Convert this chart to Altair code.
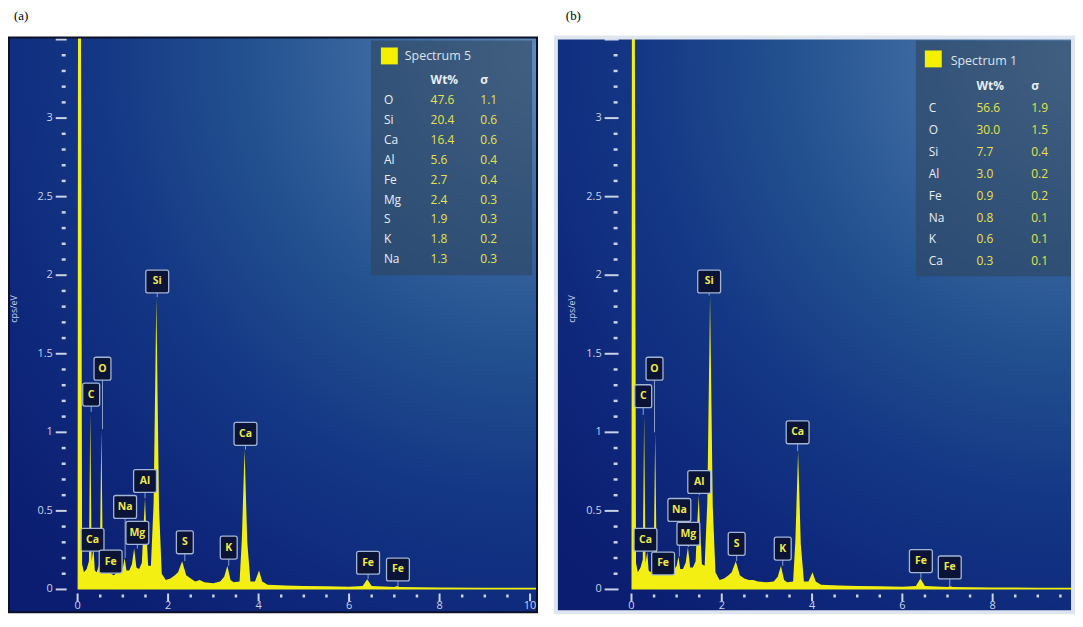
import altair as alt
import pandas as pd

# ---------------- spectrum data (energy keV, intensity cps/eV) ----------------
energy = [0.00, 0.01, 0.07, 0.10, 0.14, 0.20, 0.25, 0.28, 0.31, 0.35,
          0.38, 0.42, 0.47, 0.50, 0.525, 0.55, 0.58, 0.62, 0.66, 0.70,
          0.74, 0.80, 0.88, 0.95, 1.00, 1.04, 1.08, 1.14, 1.20, 1.25,
          1.30, 1.36, 1.42, 1.46, 1.49, 1.52, 1.56, 1.62, 1.68, 1.74,
          1.80, 1.86, 1.95, 2.05, 2.15, 2.22, 2.31, 2.40, 2.50, 2.60,
          2.70, 2.80, 3.00, 3.15, 3.24, 3.31, 3.38, 3.45, 3.58, 3.63,
          3.69, 3.75, 3.82, 3.92, 4.01, 4.08, 4.20, 4.60, 5.00, 5.50,
          6.00, 6.30, 6.40, 6.50, 7.00, 7.06, 7.12, 8.00, 9.00, 10.30]
cps_a = [0.00, 4.20, 4.20, 0.16, 0.11, 0.13, 0.18, 1.13, 0.18, 0.27,
         0.12, 0.11, 0.15, 0.40, 1.02, 0.36, 0.12, 0.10, 0.12, 0.15,
         0.10, 0.09, 0.11, 0.12, 0.14, 0.20, 0.12, 0.12, 0.16, 0.26,
         0.14, 0.13, 0.17, 0.42, 0.58, 0.36, 0.15, 0.15, 0.55, 1.86,
         0.52, 0.10, 0.06, 0.07, 0.09, 0.11, 0.18, 0.09, 0.07, 0.05,
         0.06, 0.045, 0.04, 0.05, 0.08, 0.15, 0.06, 0.045, 0.05, 0.32,
         0.89, 0.30, 0.05, 0.05, 0.12, 0.05, 0.03, 0.025, 0.022, 0.02,
         0.017, 0.022, 0.065, 0.022, 0.016, 0.022, 0.015, 0.013, 0.011, 0.01]
cps_b = [0.00, 4.20, 4.20, 0.17, 0.11, 0.14, 0.19, 1.11, 0.17, 0.24,
         0.12, 0.11, 0.14, 0.38, 1.00, 0.35, 0.12, 0.10, 0.11, 0.13,
         0.10, 0.09, 0.11, 0.13, 0.15, 0.21, 0.13, 0.13, 0.17, 0.27,
         0.14, 0.14, 0.18, 0.44, 0.60, 0.38, 0.16, 0.15, 0.56, 1.87,
         0.53, 0.11, 0.06, 0.07, 0.09, 0.11, 0.18, 0.09, 0.07, 0.06,
         0.06, 0.05, 0.045, 0.05, 0.08, 0.15, 0.06, 0.045, 0.05, 0.31,
         0.88, 0.29, 0.05, 0.05, 0.11, 0.05, 0.03, 0.025, 0.022, 0.02,
         0.017, 0.022, 0.07, 0.022, 0.016, 0.02, 0.015, 0.013, 0.011, 0.01]

# ---------------- peak labels ----------------
peak_names = ["C", "O", "Ca", "Fe", "Na", "Mg", "Al", "Si", "S", "K", "Ca", "Fe", "Fe"]
peak_x_a = [0.30, 0.55, 0.33, 0.73, 1.05, 1.32, 1.49, 1.76, 2.37, 3.34, 3.71, 6.42, 7.08]
peak_label_y_a = [1.24, 1.405, 0.316, 0.177, 0.525, 0.36, 0.69, 1.96, 0.30, 0.266, 0.99, 0.17, 0.127]
peak_top_a = [1.13, 1.02, 0.27, 0.15, 0.20, 0.26, 0.58, 1.86, 0.18, 0.15, 0.89, 0.065, 0.022]
peak_x_b = [0.26, 0.51, 0.31, 0.70, 1.06, 1.26, 1.50, 1.72, 2.33, 3.35, 3.68, 6.41, 7.05]
peak_label_y_b = [1.23, 1.405, 0.316, 0.165, 0.506, 0.354, 0.684, 1.96, 0.29, 0.26, 1.00, 0.18, 0.14]
peak_top_b = [1.11, 1.00, 0.24, 0.13, 0.21, 0.27, 0.60, 1.87, 0.18, 0.15, 0.88, 0.07, 0.02]

# ---------------- quantification tables ----------------
legend_title_a = "Spectrum 5"
legend_el_a = ["O", "Si", "Ca", "Al", "Fe", "Mg", "S", "K", "Na"]
legend_wt_a = ["47.6", "20.4", "16.4", "5.6", "2.7", "2.4", "1.9", "1.8", "1.3"]
legend_sg_a = ["1.1", "0.6", "0.6", "0.4", "0.4", "0.3", "0.3", "0.2", "0.3"]
legend_title_b = "Spectrum 1"
legend_el_b = ["C", "O", "Si", "Al", "Fe", "Na", "K", "Ca"]
legend_wt_b = ["56.6", "30.0", "7.7", "3.0", "0.9", "0.8", "0.6", "0.3"]
legend_sg_b = ["1.9", "1.5", "0.4", "0.2", "0.2", "0.1", "0.1", "0.1"]

# ---------------- axes ----------------
y_major = [0, 0.5, 1, 1.5, 2, 2.5, 3, 3.5]
y_major_text = ["0", "0.5", "1", "1.5", "2", "2.5", "3", ""]
y_minor = [0.1, 0.2, 0.3, 0.4, 0.6, 0.7, 0.8, 0.9, 1.1, 1.2, 1.3, 1.4,
           1.6, 1.7, 1.8, 1.9, 2.1, 2.2, 2.3, 2.4, 2.6, 2.7, 2.8, 2.9,
           3.1, 3.2, 3.3, 3.4]
x_major = [0, 2, 4, 6, 8, 10]
x_major_text = ["0", "2", "4", "6", "8", "10"]
x_minor = [0.5, 1, 1.5, 2.5, 3, 3.5, 4.5, 5, 5.5, 6.5, 7, 7.5, 8.5, 9, 9.5]

YELLOW = "#f3ef12"
LABEL_YELLOW = "#f0e84a"
VALUE_YELLOW = "#e6e24a"
TICK = "#c9d2e6"
WHITE_TXT = "#e9edf5"
FONT = "Open Sans"

GRAD = {
    "gradient": "radial",
    "x1": 0.97, "y1": 0.03, "r1": 0,
    "x2": 0.97, "y2": 0.03, "r2": 1.25,
    "stops": [
        {"offset": 0.0, "color": "#5f8cb8"},
        {"offset": 0.2, "color": "#3f6ca2"},
        {"offset": 0.42, "color": "#22508f"},
        {"offset": 0.62, "color": "#143785"},
        {"offset": 0.82, "color": "#0e277a"},
        {"offset": 1.0, "color": "#0b1d70"},
    ],
}

H = 578
Y0PX = 555      # pixel row of y = 0 inside panel
YPXU = 158.0    # pixels per cps/eV
YDOM = [-(H - Y0PX) / YPXU, Y0PX / YPXU]

GEO_A = dict(W=531, x0px=69, pxu=45.5, ymaj=(47, 58), ymin=(53, 57), ylab=44,
             ytitle=(5, 273), box=(364, 526, 3, 239), sq=(374, 391, 10, 27),
             ltitle=(398, 19), head_y=43, cols=(377, 424, 474), row0=63, dy=20,
             border="#0c1028", bw=2, title="(a)", tdx=6)
GEO_B = dict(W=520, x0px=76, pxu=45.4, ymaj=(49, 63), ymin=(58, 62), ylab=46,
             ytitle=(16, 273), box=(362, 520, 3, 240), sq=(371, 388, 13, 30),
             ltitle=(397, 24), head_y=49, cols=(375, 423, 478), row0=71, dy=22,
             border="#dfe5ee", bw=4, title="(b)", tdx=12)


def panel(cps, lx, ly, ltop, ltitle, lel, lwt, lsg, g):
    W = g["W"]
    xdom = [-g["x0px"] / g["pxu"], (W - g["x0px"]) / g["pxu"]]
    xs = alt.Scale(domain=xdom, nice=False, zero=False)
    ys = alt.Scale(domain=YDOM, nice=False, zero=False)

    def X(f):
        return alt.X(f, type="quantitative", scale=xs, axis=None)

    def Y(f):
        return alt.Y(f, type="quantitative", scale=ys, axis=None)

    one = pd.DataFrame({"k": [0]})

    bg = alt.Chart(one).mark_rect(fill=GRAD).encode(
        x=alt.value(0), x2=alt.value(W), y=alt.value(0), y2=alt.value(H))

    spec = alt.Chart(pd.DataFrame({"e": energy, "c": cps})).mark_area(
        color=YELLOW, clip=True, interpolate="linear", opacity=1
    ).encode(x=X("e"), y=Y("c"), y2=alt.datum(0))

    labs = pd.DataFrame({"lab": peak_names, "lx": lx, "ly": ly, "top": ltop})
    stems = alt.Chart(labs).mark_rule(color="#a3b5d4", strokeWidth=1, opacity=0.85).encode(
        x=X("lx"), y=Y("top"), y2=alt.Y2("ly"))
    pxu = g["pxu"]
    boxes = alt.Chart(labs).transform_calculate(
        bx1=f"datum.lx - (length(datum.lab) > 1 ? 11.5 : 8.5) / {pxu}",
        bx2=f"datum.lx + (length(datum.lab) > 1 ? 11.5 : 8.5) / {pxu}",
        by1=f"datum.ly - 11.5 / {YPXU}",
        by2=f"datum.ly + 11.5 / {YPXU}",
    ).mark_rect(fill="#0b1436", stroke="#a3b6d6", strokeWidth=1.3, cornerRadius=2).encode(
        x=X("bx1:Q"), x2=alt.X2("bx2:Q"), y=Y("by1:Q"), y2=alt.Y2("by2:Q"))
    ltext = alt.Chart(labs).mark_text(
        color=LABEL_YELLOW, font=FONT, fontSize=10.5, fontWeight="bold", baseline="middle"
    ).encode(x=X("lx"), y=Y("ly"), text="lab:N")

    # y axis
    ymaj_df = pd.DataFrame({"v": y_major, "t": y_major_text})
    ymaj = alt.Chart(ymaj_df).mark_rule(color=TICK, strokeWidth=2).encode(
        y=Y("v"), x=alt.value(g["ymaj"][0]), x2=alt.value(g["ymaj"][1]))
    ylab = alt.Chart(ymaj_df).mark_text(
        color=TICK, font=FONT, fontSize=11, align="right", baseline="middle"
    ).encode(y=Y("v"), x=alt.value(g["ylab"]), text="t:N")
    ymin = alt.Chart(pd.DataFrame({"v": y_minor})).mark_rule(color=TICK, strokeWidth=2.5).encode(
        y=Y("v"), x=alt.value(g["ymin"][0]), x2=alt.value(g["ymin"][1]))
    ytitle = alt.Chart(one).mark_text(
        text="cps/eV", color=TICK, font=FONT, fontSize=9, angle=270, baseline="middle"
    ).encode(x=alt.value(g["ytitle"][0]), y=alt.value(g["ytitle"][1]))

    # x axis
    xmaj_df = pd.DataFrame({"v": x_major, "t": x_major_text})
    xmaj = alt.Chart(xmaj_df).mark_rule(color=TICK, strokeWidth=2, clip=True).encode(
        x=X("v"), y=alt.value(559), y2=alt.value(567))
    xlab = alt.Chart(xmaj_df).transform_filter(
        f"datum.v <= {xdom[1] - 0.12}"
    ).mark_text(
        color=TICK, font=FONT, fontSize=11, baseline="middle"
    ).encode(x=X("v"), y=alt.value(572), text="t:N")
    xmin = alt.Chart(pd.DataFrame({"v": x_minor})).mark_rule(color=TICK, strokeWidth=2.5, clip=True).encode(
        x=X("v"), y=alt.value(560), y2=alt.value(563))

    # quantification table
    bx = g["box"]
    lbox = alt.Chart(one).mark_rect(fill="#2f4560", opacity=0.62).encode(
        x=alt.value(bx[0]), x2=alt.value(bx[1]), y=alt.value(bx[2]), y2=alt.value(bx[3]))
    sq = g["sq"]
    lsq = alt.Chart(one).mark_rect(fill="#f5f000").encode(
        x=alt.value(sq[0]), x2=alt.value(sq[1]), y=alt.value(sq[2]), y2=alt.value(sq[3]))
    lttl = alt.Chart(one).mark_text(
        text=ltitle, color="#dde3ec", font=FONT, fontSize=12.5, align="left", baseline="middle"
    ).encode(x=alt.value(g["ltitle"][0]), y=alt.value(g["ltitle"][1]))
    hwt = alt.Chart(one).mark_text(
        text="Wt%", color=WHITE_TXT, font=FONT, fontSize=12, fontWeight="bold",
        align="left", baseline="middle"
    ).encode(x=alt.value(g["cols"][1]), y=alt.value(g["head_y"]))
    hsg = alt.Chart(one).mark_text(
        text="σ", color=WHITE_TXT, font=FONT, fontSize=12, fontWeight="bold",
        align="left", baseline="middle"
    ).encode(x=alt.value(g["cols"][2]), y=alt.value(g["head_y"]))

    rows = pd.DataFrame({"el": lel, "wt": lwt, "sg": lsg, "i": list(range(len(lel)))})
    rbase = alt.Chart(rows).transform_calculate(py=f"{g['row0']} + datum.i * {g['dy']}")
    ry = alt.Y("py:Q", scale=None, axis=None)
    rel = rbase.mark_text(color=WHITE_TXT, font=FONT, fontSize=12, align="left", baseline="middle").encode(
        x=alt.value(g["cols"][0]), y=ry, text="el:N")
    rwt = rbase.mark_text(color=VALUE_YELLOW, font=FONT, fontSize=12, align="left", baseline="middle").encode(
        x=alt.value(g["cols"][1]), y=ry, text="wt:N")
    rsg = rbase.mark_text(color=VALUE_YELLOW, font=FONT, fontSize=12, align="left", baseline="middle").encode(
        x=alt.value(g["cols"][2]), y=ry, text="sg:N")

    border = alt.Chart(one).mark_rect(fillOpacity=0, stroke=g["border"], strokeWidth=g["bw"]).encode(
        x=alt.value(0), x2=alt.value(W), y=alt.value(0), y2=alt.value(H))

    layers = alt.layer(
        bg, spec, stems, boxes, ltext,
        ymaj, ymin, ylab, ytitle, xmaj, xmin, xlab,
        lbox, lsq, lttl, hwt, hsg, rel, rwt, rsg, border
    ).resolve_scale(y="independent").properties(
        width=W, height=H,
        title=alt.TitleParams(
            text=g["title"], anchor="start", dx=g["tdx"], font="Liberation Serif",
            fontSize=13, fontWeight="normal", color="#000000", offset=11),
    )
    return layers


pa = panel(cps_a, peak_x_a, peak_label_y_a, peak_top_a,
           legend_title_a, legend_el_a, legend_wt_a, legend_sg_a, GEO_A)
pb = panel(cps_b, peak_x_b, peak_label_y_b, peak_top_b,
           legend_title_b, legend_el_b, legend_wt_b, legend_sg_b, GEO_B)

chart = alt.hconcat(pa, pb, spacing=16).properties(
    padding=0, background="#ffffff"
).configure_view(strokeWidth=0)

chart.save("out.html", embed_options={"renderer": "svg", "actions": False})
